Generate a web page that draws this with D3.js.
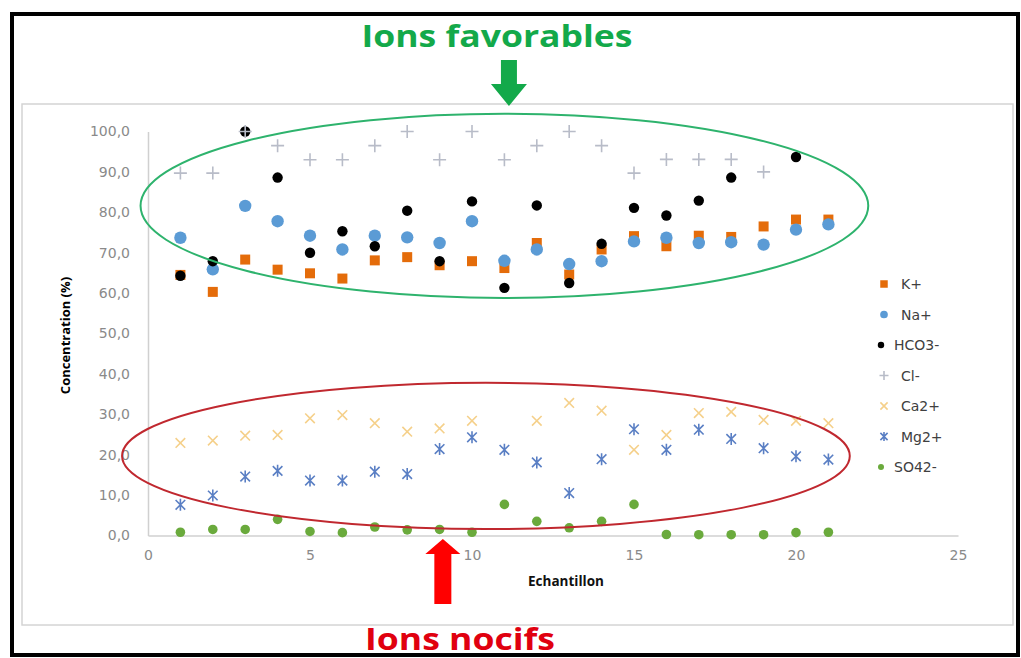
<!DOCTYPE html>
<html>
<head>
<meta charset="utf-8">
<script src="https://cdn.jsdelivr.net/npm/d3@7"></script>
<style>
  html, body { margin: 0; padding: 0; background: #ffffff; }
  svg { display: block; }
</style>
</head>
<body>
<svg id="chart" width="1021" height="658"></svg>
<script>
// ---------- DATA ----------
const samples = [1, 2, 3, 4, 5, 6, 7, 8, 9, 10, 11, 12, 13, 14, 15, 16, 17, 18, 19, 20, 21];
const seriesNames = ["K+", "Na+", "HCO3-", "Cl-", "Ca2+", "Mg2+", "SO42-"];
const K    = [64.5, 60.3, 68.3, 65.8, 64.9, 63.6, 68.1, 68.9, 66.9, 67.9, 66.2, 72.4, 64.6, 70.8, 74.1, 71.6, 74.2, 73.9, 76.5, 78.2, 78.2];
const Na   = [73.7, 65.9, 81.6, 77.8, 74.2, 70.8, 74.2, 73.8, 72.4, 77.8, 68.0, 70.8, 67.2, 67.9, 72.8, 73.7, 72.4, 72.6, 72.0, 75.7, 77.0];
const HCO3 = [64.3, 67.9, 100.0, 88.6, 70.0, 75.3, 71.6, 80.4, 67.9, 82.7, 61.3, 81.7, 62.5, 72.2, 81.1, 79.2, 82.9, 88.6, null, 93.7, null];
const Cl   = [89.7, 89.7, 100.0, 96.5, 93.0, 93.0, 96.5, 100.0, 93.0, 100.0, 93.0, 96.5, 100.0, 96.5, 89.7, 93.1, 93.1, 93.1, 90.0, null, null];
const Ca   = [22.9, 23.5, 24.7, 24.9, 29.0, 29.8, 27.8, 25.7, 26.5, 28.4, null, 28.4, 32.8, 30.9, 21.2, 24.9, 30.3, 30.6, 28.6, 28.4, 27.8];
const Mg   = [7.6, 9.9, 14.6, 16.0, 13.6, 13.6, 15.8, 15.2, 21.4, 24.3, 21.2, 18.1, 10.5, 18.9, 26.3, 21.2, 26.2, 23.9, 21.6, 19.6, 18.8];
const SO4  = [0.8, 1.5, 1.5, 4.0, 1.0, 0.7, 2.1, 1.4, 1.5, 0.8, 7.7, 3.5, 1.9, 3.5, 7.7, 0.25, 0.2, 0.2, 0.2, 0.7, 0.8];
const xTicks = [0, 5, 10, 15, 20, 25];
const yTicks = [0, 10, 20, 30, 40, 50, 60, 70, 80, 90, 100];
const xTitle = "Echantillon";
const yTitle = "Concentration (%)";
const topNote = "Ions favorables";
const bottomNote = "Ions nocifs";
// annotation ellipses in data units: [cx, cy, rx, ry]
const goodEllipse = [11.0, 81.6, 11.23, 22.8];
const badEllipse  = [10.43, 19.7, 11.23, 18.1];
const goodArrowX = 11.14;
const badArrowX = 9.1;

// ---------- STYLES ----------
const styles = {
  "K+":    { kind: "square", color: "#e46c0a", size: 10 },
  "Na+":   { kind: "circle", color: "#5b9bd5", size: 6.2 },
  "HCO3-": { kind: "circle", color: "#000000", size: 5.2 },
  "Cl-":   { kind: "plus",   color: "#b8bcc8", size: 6.5 },
  "Ca2+":  { kind: "cross",  color: "#f5d08a", size: 6 },
  "Mg2+":  { kind: "star",   color: "#5a7fc4", size: 6 },
  "SO42-": { kind: "circle", color: "#6aaa3c", size: 4.8 }
};
const seriesValues = [K, Na, HCO3, Cl, Ca, Mg, SO4];

const svg = d3.select("#chart");
const W = 1021, H = 658;

// frames
svg.append("rect").attr("x", 0).attr("y", 0).attr("width", W).attr("height", H).attr("fill", "#fff");
svg.append("rect").attr("x", 12).attr("y", 14).attr("width", 1006).attr("height", 641)
  .attr("fill", "#fff").attr("stroke", "#000").attr("stroke-width", 4);
svg.append("rect").attr("x", 22).attr("y", 104).attr("width", 991).attr("height", 521)
  .attr("fill", "#fff").attr("stroke", "#d4d4d4").attr("stroke-width", 1.5);

// scales
const x = d3.scaleLinear().domain([0, 25]).range([148, 958]);
const y = d3.scaleLinear().domain([0, 100]).range([535.5, 131.5]);

const fmt = d => d.toFixed(1).replace(".", ",");

// axes
const yAxis = svg.append("g").attr("transform", `translate(${x(0)},0)`)
  .call(d3.axisLeft(y).tickValues(yTicks).tickFormat(fmt).tickSize(0).tickSizeOuter(0).tickPadding(18));
const xAxis = svg.append("g").attr("transform", `translate(0,${y(0)})`)
  .call(d3.axisBottom(x).tickValues(xTicks).tickFormat(d3.format("d")).tickSize(0).tickSizeOuter(0).tickPadding(15));
[yAxis, xAxis].forEach(a => {
  a.select(".domain").attr("stroke", "#d0d0d0").attr("stroke-width", 1.5);
  a.selectAll("text").attr("fill", "#8a8a8a").style("font-family", "DejaVu Sans").style("font-size", "14px");
});

// axis titles
svg.append("text").attr("transform", `translate(70,${(y(0) + y(100)) / 2 + 2}) rotate(-90)`)
  .attr("text-anchor", "middle").style("font-family", "Open Sans").style("font-weight", "bold")
  .style("font-size", "13px").attr("fill", "#000").text(yTitle);
svg.append("text").attr("x", 566).attr("y", 586)
  .attr("text-anchor", "middle").style("font-family", "Open Sans").style("font-weight", "bold")
  .style("font-size", "13.5px").attr("fill", "#111").text(xTitle);

// marker path builder
function markerPath(kind, s) {
  if (kind === "square") return d3.symbol(d3.symbolSquare, s * s)();
  if (kind === "circle") return d3.symbol(d3.symbolCircle, Math.PI * s * s)();
  const p = d3.path();
  if (kind === "plus" || kind === "star") {
    p.moveTo(0, -s); p.lineTo(0, s);
  }
  if (kind === "plus") { p.moveTo(-s, 0); p.lineTo(s, 0); }
  if (kind === "cross" || kind === "star") {
    const c = s * 0.8;
    p.moveTo(-c, -c); p.lineTo(c, c);
    p.moveTo(-c, c); p.lineTo(c, -c);
  }
  return p.toString();
}
function styleMarker(sel, st) {
  const filled = st.kind === "square" || st.kind === "circle";
  sel.attr("fill", filled ? st.color : "none")
     .attr("stroke", filled ? "none" : st.color)
     .attr("stroke-width", filled ? 0 : 1.6);
}

// points
seriesNames.forEach((name, i) => {
  const st = styles[name];
  const pts = samples.map((s, j) => ({ s, v: seriesValues[i][j] })).filter(d => d.v !== null);
  const g = svg.append("g").attr("class", "series");
  g.selectAll("path").data(pts).join("path")
    .attr("transform", d => `translate(${x(d.s)},${y(d.v)})`)
    .attr("d", markerPath(st.kind, st.size))
    .call(styleMarker, st);
});

// legend
const legY = d3.scalePoint().domain(seriesNames).range([284, 467]);
const leg = svg.append("g");
seriesNames.forEach(name => {
  const st = styles[name];
  const ls = st.kind === "square" ? 7.5 : st.kind === "circle" ? Math.max(3, st.size * 0.62) : 4.5;
  const mx = name === "HCO3-" || name === "SO42-" ? 881 : 884;
  leg.append("path").attr("transform", `translate(${mx},${legY(name)})`)
    .attr("d", markerPath(st.kind, ls)).call(styleMarker, st);
  leg.append("text").attr("x", mx + (name === "HCO3-" || name === "SO42-" ? 13 : 17)).attr("y", legY(name))
    .attr("dy", "0.36em").style("font-family", "DejaVu Sans").style("font-size", "14px")
    .attr("fill", "#404040").text(name);
});

// annotation ellipses
function ellipse(e, color) {
  svg.append("ellipse")
    .attr("cx", x(e[0])).attr("cy", y(e[1]))
    .attr("rx", x(e[2]) - x(0)).attr("ry", y(0) - y(e[3]))
    .attr("fill", "none").attr("stroke", color).attr("stroke-width", 2);
}
ellipse(goodEllipse, "#2eb36d");
ellipse(badEllipse, "#c0282f");

// arrows
function downArrow(cx, top, bottom, shaftW, headW, headH, color) {
  const p = d3.path();
  p.moveTo(cx - shaftW / 2, top);
  p.lineTo(cx + shaftW / 2, top);
  p.lineTo(cx + shaftW / 2, bottom - headH);
  p.lineTo(cx + headW / 2, bottom - headH);
  p.lineTo(cx, bottom);
  p.lineTo(cx - headW / 2, bottom - headH);
  p.lineTo(cx - shaftW / 2, bottom - headH);
  p.closePath();
  svg.append("path").attr("d", p.toString()).attr("fill", color);
}
function upArrow(cx, top, bottom, shaftW, headW, headH, color) {
  const p = d3.path();
  p.moveTo(cx, top);
  p.lineTo(cx + headW / 2, top + headH);
  p.lineTo(cx + shaftW / 2, top + headH);
  p.lineTo(cx + shaftW / 2, bottom);
  p.lineTo(cx - shaftW / 2, bottom);
  p.lineTo(cx - shaftW / 2, top + headH);
  p.lineTo(cx - headW / 2, top + headH);
  p.closePath();
  svg.append("path").attr("d", p.toString()).attr("fill", color);
}
downArrow(x(goodArrowX), 60, 106, 16, 36, 22, "#13a94a");
upArrow(x(badArrowX), 539, 604, 17, 35, 15, "#ff0000");

// notes
svg.append("text").attr("x", 497).attr("y", 47).attr("text-anchor", "middle")
  .style("font-family", "Open Sans").style("font-weight", "bold").style("font-size", "31px")
  .attr("textLength", 271).attr("lengthAdjust", "spacingAndGlyphs")
  .attr("fill", "#13a94a").text(topNote);
svg.append("text").attr("x", 460).attr("y", 650).attr("text-anchor", "middle")
  .style("font-family", "Open Sans").style("font-weight", "bold").style("font-size", "31px")
  .attr("textLength", 190).attr("lengthAdjust", "spacingAndGlyphs")
  .attr("fill", "#e0000f").text(bottomNote);
</script>
</body>
</html>
